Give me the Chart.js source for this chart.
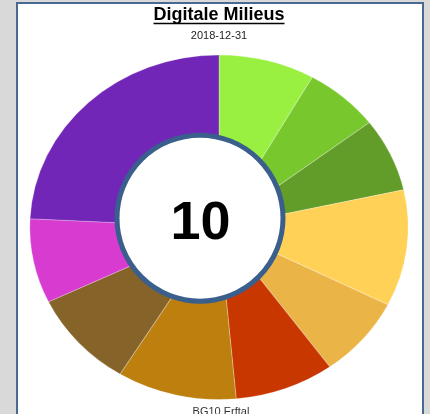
<!DOCTYPE html>
<html>
<head>
<meta charset="utf-8">
<script src="https://cdn.jsdelivr.net/npm/chart.js@4.4.0/dist/chart.umd.min.js"></script>
<style>
  html, body { margin: 0; padding: 0; background: #d9d9d9; overflow: hidden; }
  #panel {
    position: absolute; left: 16px; top: 2px; width: 404px; height: 440px;
    background: #fff; border: 2px solid #4a6991; border-bottom: none;
  }
  #wrap { position: absolute; left: 0; top: 0; width: 430px; height: 414px; }
</style>
</head>
<body>
<div id="panel"></div>
<div id="wrap"><canvas id="plot"></canvas></div>
<script>
// slices clockwise from 12 o'clock
const milieus = ['Milieu 1', 'Milieu 2', 'Milieu 3', 'Milieu 4', 'Milieu 5',
                 'Milieu 6', 'Milieu 7', 'Milieu 8', 'Milieu 9', 'Milieu 10'];
const shares = [8.2, 6.4, 6.9, 10.9, 7.6, 8.5, 10.2, 9.1, 7.9, 24.2];
const sliceColors = ['#99f040', '#78c82d', '#639d29', '#ffd257', '#ebb447',
                     '#c83700', '#bd7f0e', '#856329', '#d83bd0', '#7226b8'];

const chartTitle = 'Digitale Milieus';
const chartDate = '2018-12-31';
const regionLabel = 'BG10 Erftal';
const centerValue = '10';

const FONT = "'Liberation Sans', Arial, sans-serif";

// the pie in the original is a bit wider than tall
const ovalPie = {
  id: 'ovalPie',
  beforeDatasetsDraw(chart) {
    const a = chart.chartArea, ctx = chart.ctx;
    const cx = (a.left + a.right) / 2, cy = (a.top + a.bottom) / 2;
    ctx.save();
    ctx.translate(cx, cy);
    ctx.scale(1.098, 1);
    ctx.translate(-cx, -cy);
  },
  afterDatasetsDraw(chart) {
    const a = chart.chartArea, ctx = chart.ctx;
    ctx.restore();
    const cx = (a.left + a.right) / 2, cy = (a.top + a.bottom) / 2;
    // white badge with the count
    const bx = cx - 19, by = cy - 9;
    ctx.save();
    ctx.beginPath();
    ctx.arc(bx, by, 83, 0, Math.PI * 2);
    ctx.fillStyle = '#fff';
    ctx.fill();
    ctx.lineWidth = 5;
    ctx.strokeStyle = '#3a5f8c';
    ctx.stroke();
    ctx.fillStyle = '#000';
    ctx.font = 'bold 54px ' + FONT;
    ctx.textAlign = 'center';
    ctx.textBaseline = 'alphabetic';
    ctx.fillText(centerValue, bx + 0.5, by + 21);
    ctx.restore();
  },
  afterDraw(chart) {
    const a = chart.chartArea, ctx = chart.ctx;
    const cx = (a.left + a.right) / 2;
    ctx.save();
    // title underline
    ctx.font = 'bold 18px ' + FONT;
    const w = ctx.measureText(chartTitle).width;
    ctx.strokeStyle = '#000';
    ctx.lineWidth = 1.5;
    ctx.beginPath();
    ctx.moveTo(cx - w / 2, 23.5);
    ctx.lineTo(cx + w / 2, 23.5);
    ctx.stroke();
    // region label under the pie
    ctx.font = '11px ' + FONT;
    ctx.fillStyle = '#333';
    ctx.textAlign = 'center';
    ctx.textBaseline = 'alphabetic';
    ctx.fillText(regionLabel, cx + 2, 415);
    ctx.restore();
  }
};

const data = {
  labels: milieus,
  datasets: [{
    data: shares,
    backgroundColor: sliceColors,
    borderColor: 'rgba(255,255,255,0.25)',
    borderWidth: 1,
    clip: false
  }]
};

const config = {
  type: 'pie',
  data: data,
  plugins: [ovalPie],
  options: {
    responsive: false,
    animation: false,
    layout: {
      padding: { top: 0, bottom: 14, left: 29, right: 21 }
    },
    plugins: {
      legend: { display: false },
      tooltip: { enabled: false },
      title: {
        display: true,
        text: chartTitle,
        color: '#000',
        font: { family: FONT, size: 18, weight: 'bold', lineHeight: 1.2 },
        padding: { top: 4.4, bottom: 0 }
      },
      subtitle: {
        display: true,
        text: chartDate,
        color: '#222',
        font: { family: FONT, size: 11, weight: 'normal', lineHeight: 1.2 },
        padding: { top: 3.1, bottom: 12.1 }
      }
    }
  }
};

const canvas = document.getElementById('plot');
canvas.width = 430;
canvas.height = 414;
canvas.style.width = '430px';
canvas.style.height = '414px';
const myChart = new Chart(canvas, config);
</script>
</body>
</html>
